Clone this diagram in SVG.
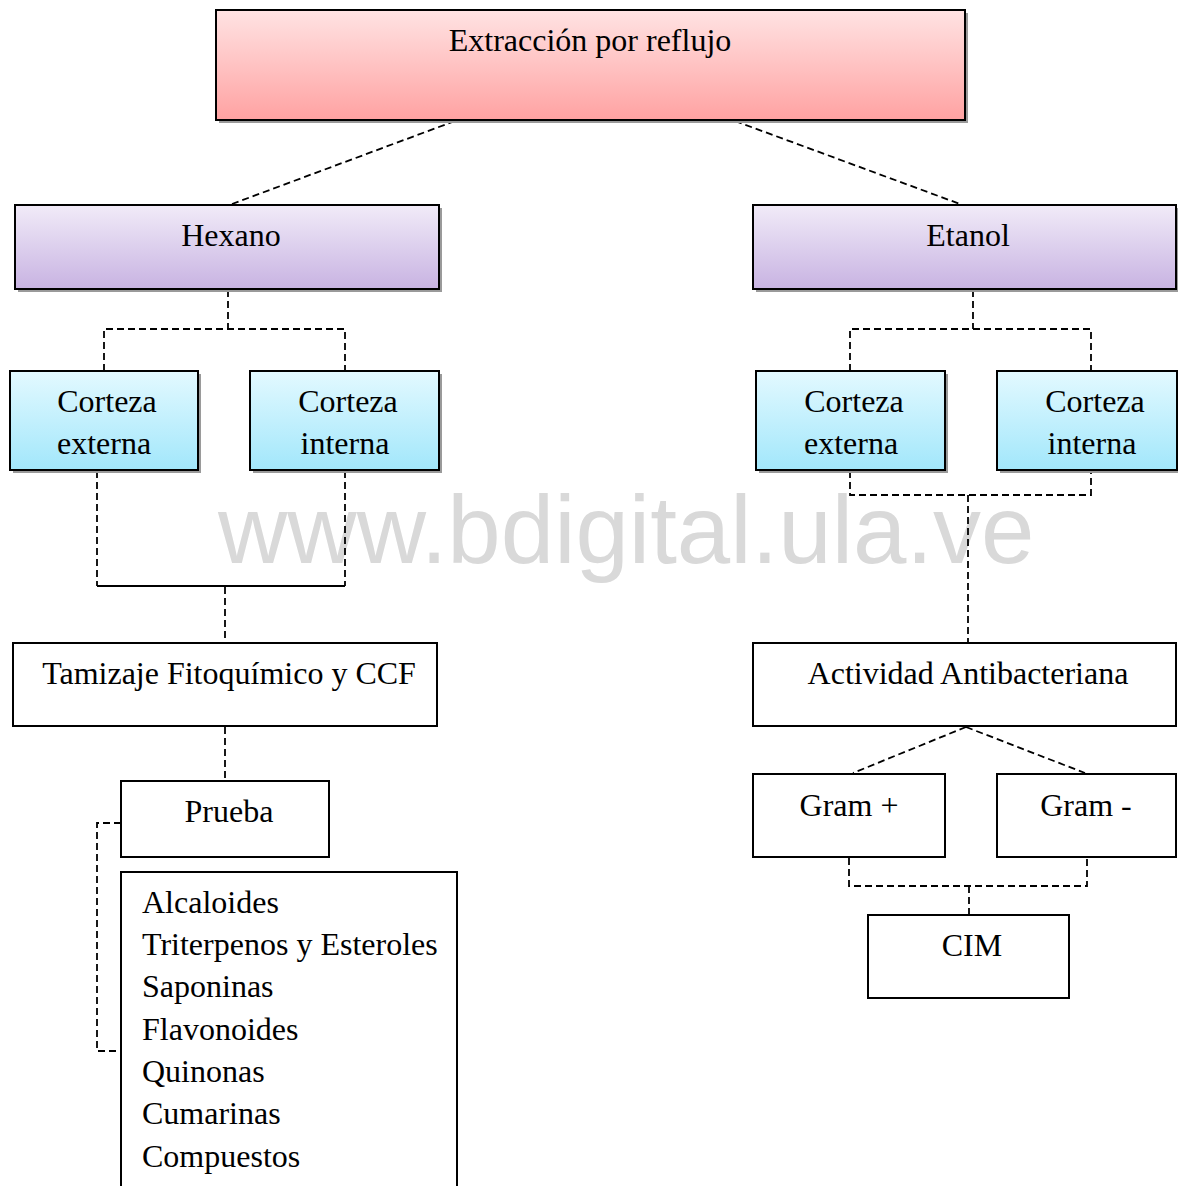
<svg xmlns="http://www.w3.org/2000/svg" width="1178" height="1186" viewBox="0 0 1178 1186">
<style>
text{font-family:"Liberation Serif","Times New Roman",serif;font-size:32px;fill:#000}
.c{text-anchor:middle}
.box{stroke:#000;stroke-width:2}
.w{fill:#fff}
.sh{fill:#9a9a9a}
.d{fill:none;stroke:#000;stroke-width:1.8;stroke-dasharray:7 4}
.s{fill:none;stroke:#000;stroke-width:1.8}
.wm{font-family:"Liberation Sans",Arial,sans-serif;font-size:96px;fill:#d9d9d9}
</style>
<defs>
<linearGradient id="gR" x1="0" y1="0" x2="0" y2="1"><stop offset="0" stop-color="#ffe3e3"/><stop offset="1" stop-color="#ffa2a2"/></linearGradient>
<linearGradient id="gP" x1="0" y1="0" x2="0" y2="1"><stop offset="0" stop-color="#f1ebf8"/><stop offset="1" stop-color="#c8b3e2"/></linearGradient>
<linearGradient id="gC" x1="0" y1="0" x2="0" y2="1"><stop offset="0" stop-color="#e3f9ff"/><stop offset="1" stop-color="#a2e7fb"/></linearGradient>
</defs>
<rect width="1178" height="1186" fill="#fff"/>
<text class="wm" x="218" y="563">www.bdigital.ula.ve</text>
<g id="connectors">
<line class="d" x1="455" y1="121" x2="232" y2="204"/>
<line class="d" x1="735" y1="121" x2="960" y2="204"/>
<path class="d" d="M228 290V329M104 371V329H345V371"/>
<path class="d" d="M97 471V586M345 471V586"/>
<line class="s" x1="97" y1="586" x2="345" y2="586"/>
<line class="d" x1="225" y1="587" x2="225" y2="642"/>
<line class="d" x1="225" y1="727" x2="225" y2="780"/>
<path class="d" d="M121 823H97V1051H121"/>
<path class="d" d="M973 290V329M850 371V329H1091V371"/>
<path class="d" d="M850 471V495H1091V471M968 495V642"/>
<path class="d" d="M966 727L853 773M966 727L1085 773"/>
<path class="d" d="M849 858V886H1087V858M969 886V915"/>
</g>
<g id="n-extraccion"><rect class="sh" x="219" y="13" width="749" height="110"/><rect class="box" x="216" y="10" width="749" height="110" fill="url(#gR)"/><text class="c" x="590" y="51">Extracción por reflujo</text></g>
<g id="n-hexano"><rect class="sh" x="18" y="208" width="424" height="84"/><rect class="box" x="15" y="205" width="424" height="84" fill="url(#gP)"/><text class="c" x="231" y="246">Hexano</text></g>
<g id="n-etanol"><rect class="sh" x="756" y="208" width="424" height="84"/><rect class="box" x="753" y="205" width="423" height="84" fill="url(#gP)"/><text class="c" x="968" y="246">Etanol</text></g>
<g id="n-hex-ext"><rect class="sh" x="13" y="374" width="188" height="99"/><rect class="box" x="10" y="371" width="188" height="99" fill="url(#gC)"/><text class="c" x="107" y="412">Corteza</text><text class="c" x="104" y="454">externa</text></g>
<g id="n-hex-int"><rect class="sh" x="253" y="374" width="189" height="99"/><rect class="box" x="250" y="371" width="189" height="99" fill="url(#gC)"/><text class="c" x="348" y="412">Corteza</text><text class="c" x="345" y="454">interna</text></g>
<g id="n-eta-ext"><rect class="sh" x="759" y="374" width="189" height="99"/><rect class="box" x="756" y="371" width="189" height="99" fill="url(#gC)"/><text class="c" x="854" y="412">Corteza</text><text class="c" x="851" y="454">externa</text></g>
<g id="n-eta-int"><rect class="sh" x="1000" y="374" width="189" height="99"/><rect class="box" x="997" y="371" width="180" height="99" fill="url(#gC)"/><text class="c" x="1095" y="412">Corteza</text><text class="c" x="1092" y="454">interna</text></g>
<g id="n-tamizaje"><rect class="box w" x="13" y="643" width="424" height="83"/><text class="c" x="229" y="684">Tamizaje Fitoquímico y CCF</text></g>
<g id="n-prueba"><rect class="box w" x="121" y="781" width="208" height="76"/><text class="c" x="229" y="822">Prueba</text></g>
<g id="n-lista"><rect class="box w" x="121" y="872" width="336" height="330"/>
<text x="142" y="913">Alcaloides</text><text x="142" y="955">Triterpenos y Esteroles</text><text x="142" y="997">Saponinas</text><text x="142" y="1040">Flavonoides</text><text x="142" y="1082">Quinonas</text><text x="142" y="1124">Cumarinas</text><text x="142" y="1167">Compuestos</text></g>
<g id="n-actividad"><rect class="box w" x="753" y="643" width="423" height="83"/><text class="c" x="968" y="684">Actividad Antibacteriana</text></g>
<g id="n-gramp"><rect class="box w" x="753" y="774" width="192" height="83"/><text class="c" x="849" y="816">Gram +</text></g>
<g id="n-gramn"><rect class="box w" x="997" y="774" width="179" height="83"/><text class="c" x="1086" y="816">Gram -</text></g>
<g id="n-cim"><rect class="box w" x="868" y="915" width="201" height="83"/><text class="c" x="972" y="956">CIM</text></g>
</svg>
